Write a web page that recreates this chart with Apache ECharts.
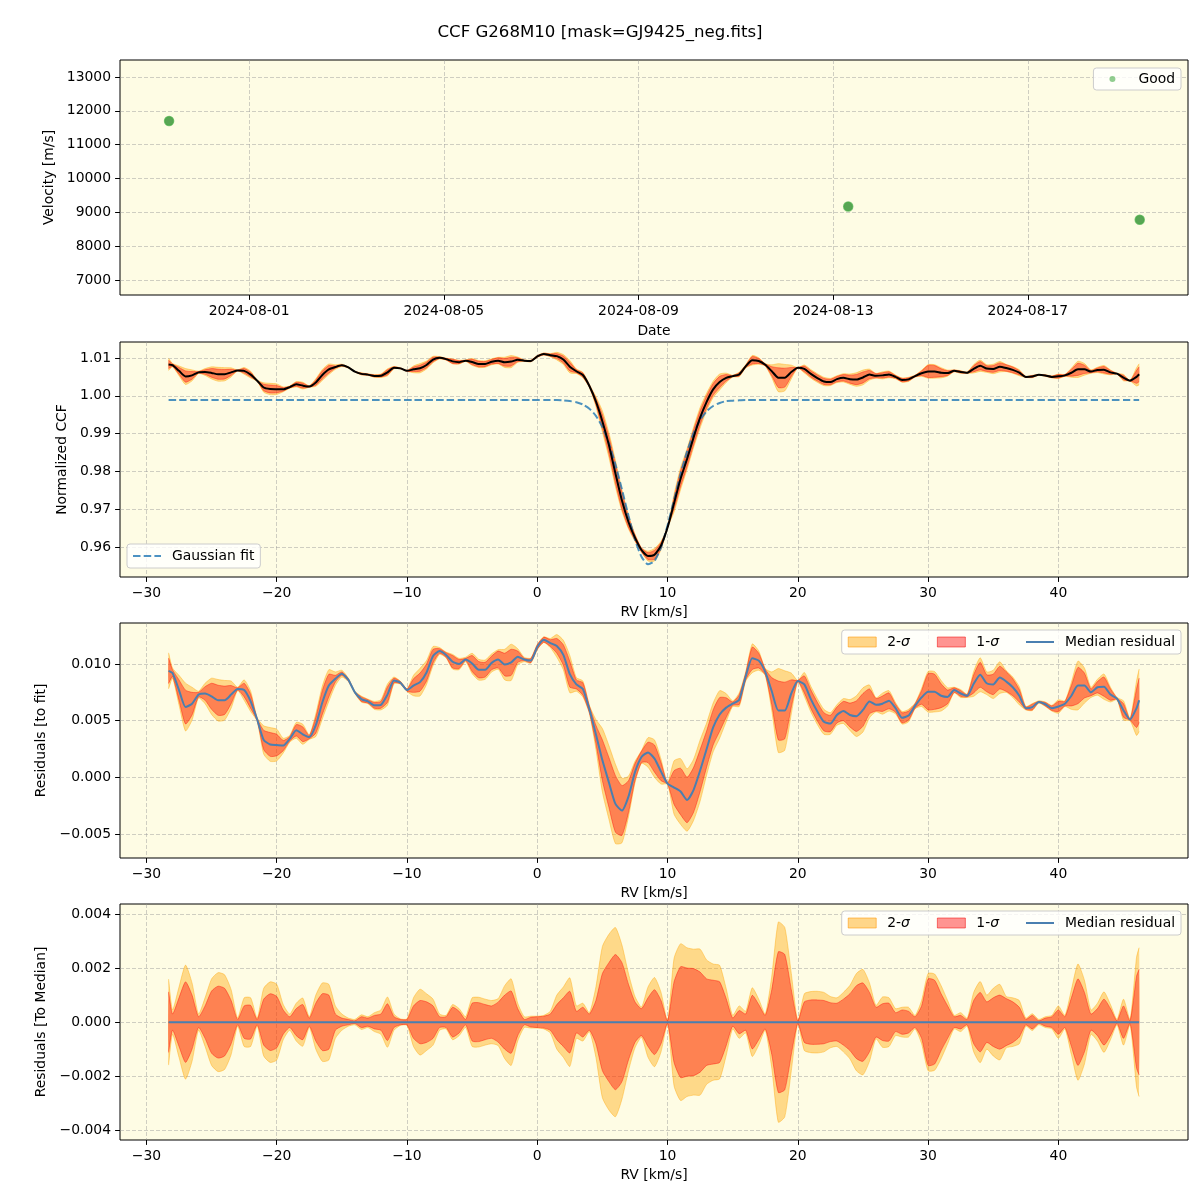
<!DOCTYPE html>
<html><head><meta charset="utf-8">
<script src="https://cdn.jsdelivr.net/npm/echarts@6/dist/echarts.min.js"></script>
<style>html,body{margin:0;padding:0;background:#fff}#c{width:1200px;height:1200px}</style>
</head><body><div id="c"></div>
<script>
// ---------------- data ----------------
const obsDates = ['2024-07-30T08:32:00Z', '2024-08-13T07:26:00Z', '2024-08-19T07:12:00Z'];
const obsVel = [11700, 9170, 8780];
const dateTicks = ['2024-08-01T00:00:00Z', '2024-08-05T00:00:00Z', '2024-08-09T00:00:00Z', '2024-08-13T00:00:00Z', '2024-08-17T00:00:00Z'];
const velTicks = [7000, 8000, 9000, 10000, 11000, 12000, 13000];
const rvTicks = [-30, -20, -10, 0, 10, 20, 30, 40];
const ccfTicks = [0.96, 0.97, 0.98, 0.99, 1.00, 1.01];
const resTicks = [-0.005, 0.0, 0.005, 0.010];
const medTicks = [-0.004, -0.002, 0.0, 0.002, 0.004];

// RV grid [km/s]
const rv = [
 -28.3,-28,-27.5,-27,-26.5,-26,-25.5,-25,-24.5,-24,
 -23.5,-23,-22.5,-22,-21.5,-21,-20.5,-20,-19.5,-19,
 -18.5,-18,-17.5,-17,-16.5,-16,-15.5,-15,-14.5,-14,
 -13.5,-13,-12.5,-12,-11.5,-11,-10.5,-10,-9.5,-9,
 -8.5,-8,-7.5,-7,-6.5,-6,-5.5,-5,-4.5,-4,
 -3.5,-3,-2.5,-2,-1.5,-1,-0.5,0,0.5,1,
 1.5,2,2.5,3,3.5,4,4.5,5,5.5,6,
 6.5,7,7.5,8,8.5,9,9.5,10,10.5,11,
 11.5,12,12.5,13,13.5,14,14.5,15,15.5,16,
 16.5,17,17.5,18,18.5,19,19.5,20,20.5,21,
 21.5,22,22.5,23,23.5,24,24.5,25,25.5,26,
 26.5,27,27.5,28,28.5,29,29.5,30,30.5,31,
 31.5,32,32.5,33,33.5,34,34.5,35,35.5,36,
 36.5,37,37.5,38,38.5,39,39.5,40,40.5,41,
 41.5,42,42.5,43,43.5,44,44.5,45,45.5,46,
 46.2];

// Gaussian fit (normalized CCF)
const gaussFit = [
 0.9989,0.9989,0.9989,0.9989,0.9989,0.9989,0.9989,0.9989,0.9989,0.9989,
 0.9989,0.9989,0.9989,0.9989,0.9989,0.9989,0.9989,0.9989,0.9989,0.9989,
 0.9989,0.9989,0.9989,0.9989,0.9989,0.9989,0.9989,0.9989,0.9989,0.9989,
 0.9989,0.9989,0.9989,0.9989,0.9989,0.9989,0.9989,0.9989,0.9989,0.9989,
 0.9989,0.9989,0.9989,0.9989,0.9989,0.9989,0.9989,0.9989,0.9989,0.9989,
 0.9989,0.9989,0.9989,0.9989,0.9989,0.9989,0.9989,0.9989,0.9989,0.9989,
 0.9989,0.9988,0.9986,0.9983,0.9977,0.9966,0.9947,0.9917,0.9874,0.9818,
 0.9752,0.9683,0.9620,0.9574,0.9554,0.9563,0.9599,0.9657,0.9725,0.9793,
 0.9853,0.9901,0.9936,0.9959,0.9973,0.9981,0.9986,0.9987,0.9988,0.9989,
 0.9989,0.9989,0.9989,0.9989,0.9989,0.9989,0.9989,0.9989,0.9989,0.9989,
 0.9989,0.9989,0.9989,0.9989,0.9989,0.9989,0.9989,0.9989,0.9989,0.9989,
 0.9989,0.9989,0.9989,0.9989,0.9989,0.9989,0.9989,0.9989,0.9989,0.9989,
 0.9989,0.9989,0.9989,0.9989,0.9989,0.9989,0.9989,0.9989,0.9989,0.9989,
 0.9989,0.9989,0.9989,0.9989,0.9989,0.9989,0.9989,0.9989,0.9989,0.9989,
 0.9989,0.9989,0.9989,0.9989,0.9989,0.9989,0.9989,0.9989,0.9989,0.9989,
 0.9989];

// Median residual to fit [1e-3]
const medianResid = [
 9.4,9.2,7.7,6.2,6.5,7.3,7.4,7.15,6.8,6.8,
 7.3,7.8,7.7,6.7,5.1,3.3,2.9,2.85,2.8,3.4,
 4.15,3.8,3.55,4.6,6.6,8.1,8.7,9.15,8.6,7.5,
 6.9,6.7,6.35,6.4,7.3,8.55,8.35,7.7,8.1,8.4,
 9.25,10.7,11.15,10.8,10.2,10.0,10.4,10.05,9.5,9.5,
 10.1,10.4,9.95,10.15,10.65,10.4,10.3,11.5,12.15,11.85,
 11.6,10.8,9.1,8.2,7.8,6.0,3.8,1.5,-0.45,-2.35,
 -2.93,-1.7,0.46,1.8,2.2,1.65,0.5,-0.55,-0.9,-1.25,
 -2.0,-1.1,0.6,2.5,4.4,5.55,6.15,6.5,6.85,8.9,
 10.5,10.3,9.3,7.6,5.9,5.9,7.4,8.5,8.2,6.9,
 5.8,4.9,4.75,5.5,5.85,5.5,5.4,5.95,6.7,6.4,
 6.5,6.75,6.1,5.25,5.45,6.3,7.05,7.55,7.55,7.2,
 7.1,7.7,7.4,7.2,8.25,9.05,8.3,8.2,8.8,8.45,
 7.95,7.2,6.1,6.2,6.65,6.45,6.1,6.25,6.5,7.2,
 8.1,8.1,7.5,7.95,8.0,7.3,6.95,5.9,5.1,6.1,
 6.8];

// 1-sigma half width [1e-3]
const sigma1 = [
 1.12,0.3,0.9,1.49,1.0,0.2,0.6,1.15,1.33,1.25,
 0.8,0.1,0.6,0.62,0.1,0.85,1.05,0.95,0.45,0.2,
 0.5,0.65,0.15,0.7,1.05,1.0,0.3,0.15,0.1,0.05,
 0.2,0.15,0.25,0.3,0.68,0.2,0.1,0.1,0.6,0.8,
 0.75,0.6,0.2,0.2,0.55,0.4,0.1,0.7,0.72,0.65,
 0.6,0.74,1.0,1.15,0.5,0.1,0.18,0.2,0.22,0.3,
 0.65,0.9,1.14,0.4,0.55,0.3,0.8,1.8,2.2,2.5,
 2.2,1.4,0.75,0.5,0.9,1.2,0.8,0.05,1.49,2.05,
 2.0,1.98,1.85,1.6,1.55,1.49,0.87,0.15,0.43,0.3,
 0.99,0.65,0.25,1.2,2.6,2.5,1.2,0.05,0.75,0.82,
 0.82,0.8,0.72,0.7,0.85,1.05,1.35,1.45,1.1,0.55,
 0.68,0.7,0.35,0.45,0.4,0.2,0.6,1.6,1.55,1.05,
 0.6,0.2,0.25,0.1,0.8,1.1,0.75,0.9,1.0,0.87,
 0.75,0.55,0.1,0.25,0.05,0.15,0.2,0.45,0.2,0.9,
 1.6,1.1,0.3,0.5,0.85,0.5,0.05,0.6,0.05,1.7,
 1.95];

// 2-sigma half width [1e-3]
const sigma2 = [
 1.59,0.45,1.3,2.11,1.45,0.3,0.9,1.6,1.83,1.75,
 1.2,0.15,0.9,0.9,0.15,1.25,1.49,1.4,0.65,0.3,
 0.7,0.89,0.2,1.0,1.45,1.4,0.6,0.3,0.15,0.1,
 0.27,0.2,0.35,0.45,0.93,0.3,0.12,0.12,0.9,1.22,
 1.05,0.85,0.3,0.25,0.65,0.5,0.2,0.9,0.92,0.85,
 0.8,0.87,1.35,1.6,0.7,0.2,0.22,0.22,0.25,0.4,
 1.0,1.3,1.64,0.6,0.7,0.35,1.3,2.8,3.25,3.5,
 2.85,1.8,0.95,0.56,1.3,1.65,1.1,0.05,2.36,2.9,
 2.75,2.7,2.7,2.3,2.15,2.1,1.24,0.25,0.6,0.4,
 1.27,0.85,0.3,1.7,3.7,3.5,1.8,0.05,1.05,1.13,
 1.14,1.1,0.95,0.9,1.1,1.36,1.8,1.95,1.45,0.62,
 0.93,0.9,0.5,0.55,0.55,0.25,0.8,1.8,1.78,1.35,
 0.8,0.25,0.35,0.15,1.1,1.5,1.0,1.25,1.4,0.95,
 0.9,0.8,0.15,0.31,0.1,0.2,0.25,0.6,0.25,1.2,
 2.15,1.55,0.45,0.7,1.12,0.65,0.1,0.85,0.1,2.4,
 2.75];

[gaussFit, medianResid, sigma1, sigma2].forEach((a, i) => {
  if (a.length !== rv.length) console.error('length mismatch', i, a.length, rv.length);
});

// ---------------- style ----------------
const FONT = 'DejaVu Sans';
const BG = 'rgb(254,252,228)';
const GRID_C = 'rgba(150,150,150,0.45)';
const TXT = {fontFamily: FONT, fontSize: 13.9, color: '#000'};
const SM = 0.2;
const k = 0.001;
const C2 = 'rgba(255,165,0,0.4)';
const C1 = 'rgba(255,0,0,0.4)';
const BLUE = '#4a7fb0';

const minus = v => String(v).replace('-', '\u2212');
const pad2 = n => (n < 10 ? '0' : '') + n;
const fmtDate = v => { const d = new Date(v); return d.getUTCFullYear() + '-' + pad2(d.getUTCMonth() + 1) + '-' + pad2(d.getUTCDate()); };

const gridBase = {show: true, backgroundColor: BG, borderColor: '#000', borderWidth: 1, left: 120, width: 1068};
const grids = [
  Object.assign({top: 60, height: 235}, gridBase),
  Object.assign({top: 342, height: 235}, gridBase),
  Object.assign({top: 623, height: 235}, gridBase),
  Object.assign({top: 904, height: 236}, gridBase)
];

const splitL = {show: true, lineStyle: {color: GRID_C, width: 1, type: [4, 2]}};
const noLine = {show: false, onZero: false};
function tickCfg(vals) { return {show: true, length: 4.9, lineStyle: {color: '#000', width: 1}, customValues: vals}; }

function xRV(gi) {
  return {type: 'value', gridIndex: gi, position: 'bottom', min: -32.03, max: 49.95,
    name: 'RV [km/s]', nameLocation: 'middle', nameGap: 28, nameTextStyle: TXT,
    axisLine: noLine, axisTick: tickCfg(rvTicks),
    axisLabel: Object.assign({margin: 9, customValues: rvTicks, formatter: v => minus(v)}, TXT),
    splitLine: splitL};
}
function yAx(gi, min, max, ticks, fmt, name, gap) {
  return {type: 'value', gridIndex: gi, position: 'left', min: min, max: max,
    name: name, nameLocation: 'middle', nameGap: gap, nameRotate: 90, nameTextStyle: TXT,
    axisLine: noLine, axisTick: tickCfg(ticks),
    axisLabel: Object.assign({margin: 9, customValues: ticks, formatter: fmt}, TXT),
    splitLine: splitL};
}

const tsTicks = dateTicks.map(d => Date.parse(d));
const xAxes = [
  {type: 'value', gridIndex: 0, position: 'bottom', min: Date.parse('2024-07-29T08:20:00Z'), max: Date.parse('2024-08-20T07:00:00Z'),
   name: 'Date', nameLocation: 'middle', nameGap: 29, nameTextStyle: TXT,
   axisLine: noLine, axisTick: tickCfg(tsTicks),
   axisLabel: Object.assign({margin: 9, customValues: tsTicks, formatter: v => fmtDate(v)}, TXT),
   splitLine: splitL},
  xRV(1), xRV(2), xRV(3)
];
const yAxes = [
  yAx(0, 6557, 13502, velTicks, v => String(v), 'Velocity [m/s]', 53),
  yAx(1, 0.95206, 1.01423, ccfTicks, v => v.toFixed(2), 'Normalized CCF', 42),
  yAx(2, -0.00712, 0.01362, resTicks, v => minus(v.toFixed(3)), 'Residuals [to fit]', 61),
  yAx(3, -0.00436, 0.00437, medTicks, v => minus(v.toFixed(3)), 'Residuals [To Median]', 61)
];

// ---------------- series ----------------
// filled band between two curves, drawn through the axis scales (api.coord)
function band(gi, lower, upper, color, name, z) {
  return {type: 'custom', name: name, xAxisIndex: gi, yAxisIndex: gi, coordinateSystem: 'cartesian2d',
    data: [[rv[0], lower[0]]], silent: true, z: z, animation: false, itemStyle: {color: color},
    renderItem: function (params, api) {
      const up = rv.map((r, i) => api.coord([r, upper[i]]));
      const lo = rv.map((r, i) => api.coord([r, lower[i]]));
      const poly = up.concat(lo.slice().reverse());
      return {type: 'group', children: [
        {type: 'polygon', shape: {points: poly, smooth: SM}, style: {fill: color, stroke: null}},
        {type: 'polyline', shape: {points: up, smooth: SM}, style: {stroke: color, lineWidth: 1, fill: null}},
        {type: 'polyline', shape: {points: lo, smooth: SM}, style: {stroke: color, lineWidth: 1, fill: null}}
      ]};
    }};
}
function line(gi, name, data, color, width, type, z) {
  return {type: 'line', name: name, xAxisIndex: gi, yAxisIndex: gi, data: data, symbol: 'none', showSymbol: false,
    smooth: SM, lineStyle: {color: color, width: width, type: type || 'solid'}, itemStyle: {color: color},
    z: z || 5, silent: true, animation: false};
}

// panel 2 (normalized CCF)
const ccf = rv.map((r, i) => gaussFit[i] + medianResid[i] * k);
const ccfLo2 = rv.map((r, i) => gaussFit[i] + (medianResid[i] - sigma2[i]) * k);
const ccfHi2 = rv.map((r, i) => gaussFit[i] + (medianResid[i] + sigma2[i]) * k);
const ccfLo1 = rv.map((r, i) => gaussFit[i] + (medianResid[i] - sigma1[i]) * k);
const ccfHi1 = rv.map((r, i) => gaussFit[i] + (medianResid[i] + sigma1[i]) * k);
// panel 3 (residuals to fit)
const rLo2 = rv.map((r, i) => (medianResid[i] - sigma2[i]) * k);
const rHi2 = rv.map((r, i) => (medianResid[i] + sigma2[i]) * k);
const rLo1 = rv.map((r, i) => (medianResid[i] - sigma1[i]) * k);
const rHi1 = rv.map((r, i) => (medianResid[i] + sigma1[i]) * k);
// panel 4 (residuals to median)
const mLo2 = sigma2.map(s => -s * k), mHi2 = sigma2.map(s => s * k);
const mLo1 = sigma1.map(s => -s * k), mHi1 = sigma1.map(s => s * k);

const series = [
  {type: 'scatter', name: 'Good', xAxisIndex: 0, yAxisIndex: 0,
   data: obsDates.map((d, i) => [Date.parse(d), obsVel[i]]), symbolSize: 9,
   itemStyle: {color: '#2f8f2f', borderColor: 'rgba(70,170,70,0.9)', borderWidth: 1.5}, z: 5, animation: false},

  band(1, ccfLo2, ccfHi2, C2, 'ccf 2-sigma', 2),
  band(1, ccfLo1, ccfHi1, C1, 'ccf 1-sigma', 3),
  line(1, 'Gaussian fit', rv.map((r, i) => [r, gaussFit[i]]), 'rgba(31,119,180,0.8)', 2, [7.5, 3.2], 4),
  line(1, 'Median CCF', rv.map((r, i) => [r, ccf[i]]), '#000', 2, 'solid', 6),

  band(2, rLo2, rHi2, C2, '2-σ', 2),
  band(2, rLo1, rHi1, C1, '1-σ', 3),
  line(2, 'Median residual', rv.map((r, i) => [r, medianResid[i] * k]), BLUE, 2),

  band(3, mLo2, mHi2, C2, '2-σ', 2),
  band(3, mLo1, mHi1, C1, '1-σ', 3),
  line(3, 'Median residual', rv.map(r => [r, 0]), BLUE, 2)
];

// ---------------- legends ----------------
const legendBox = {backgroundColor: 'rgba(255,255,255,0.8)', borderColor: '#cccccc', borderWidth: 1,
  borderRadius: 3, selectedMode: false, orient: 'horizontal', symbolKeepAspect: true};
const sigmaRich = {i: {fontStyle: 'italic', fontFamily: FONT, fontSize: 13.9, color: '#000'}};
const solidIcon = 'path://M0,0 L28,0 L28,2 L0,2 Z';
const dashIcon = 'path://M0,0 L7.5,0 L7.5,2 L0,2 Z M10.7,0 L18.2,0 L18.2,2 L10.7,2 Z M21.4,0 L28,0 L28,2 L21.4,2 Z';
const bandLegendData = [
  {name: '2-σ', icon: 'rect', itemStyle: {color: 'rgba(255,165,0,0.45)', borderColor: 'rgba(255,150,0,0.55)', borderWidth: 1}},
  {name: '1-σ', icon: 'rect', itemStyle: {color: 'rgba(255,0,0,0.42)', borderColor: 'rgba(240,0,0,0.5)', borderWidth: 1}},
  {name: 'Median residual', icon: solidIcon, itemStyle: {color: BLUE, borderWidth: 0}}
];
function bandLegend(top) {
  return Object.assign({data: bandLegendData, right: 19, top: top, itemWidth: 28, itemHeight: 10, itemGap: 27,
    padding: [5, 6, 5, 6], formatter: n => n.replace('σ', '{i|σ}'),
    textStyle: Object.assign({padding: [0, 0, 0, 6], rich: sigmaRich}, TXT)}, legendBox);
}
const legends = [
  Object.assign({data: [{name: 'Good', icon: 'circle', itemStyle: {color: 'rgba(44,160,44,0.65)', borderWidth: 0}}],
    right: 19, top: 68, itemWidth: 6, itemHeight: 6, padding: [4, 6, 4, 16],
    textStyle: Object.assign({padding: [0, 0, 0, 18]}, TXT)}, legendBox),
  Object.assign({data: [{name: 'Gaussian fit', icon: dashIcon, itemStyle: {color: 'rgba(31,119,180,0.8)', borderWidth: 0}}],
    left: 127, top: 544, itemWidth: 28, itemHeight: 14,
    padding: [5, 6, 5, 6], textStyle: Object.assign({padding: [0, 0, 0, 6]}, TXT)}, legendBox),
  bandLegend(630),
  bandLegend(911)
];

const option = {
  backgroundColor: '#fff',
  animation: false,
  title: {text: 'CCF G268M10 [mask=GJ9425_neg.fits]', left: 'center', top: 24, padding: 0,
    textStyle: {fontFamily: FONT, fontSize: 16.6, fontWeight: 'normal', color: '#000'}},
  grid: grids,
  xAxis: xAxes,
  yAxis: yAxes,
  legend: legends,
  series: series
};

const chart = echarts.init(document.getElementById('c'), null, {renderer: 'canvas', width: 1200, height: 1200});
chart.setOption(option);
</script>
</body></html>
